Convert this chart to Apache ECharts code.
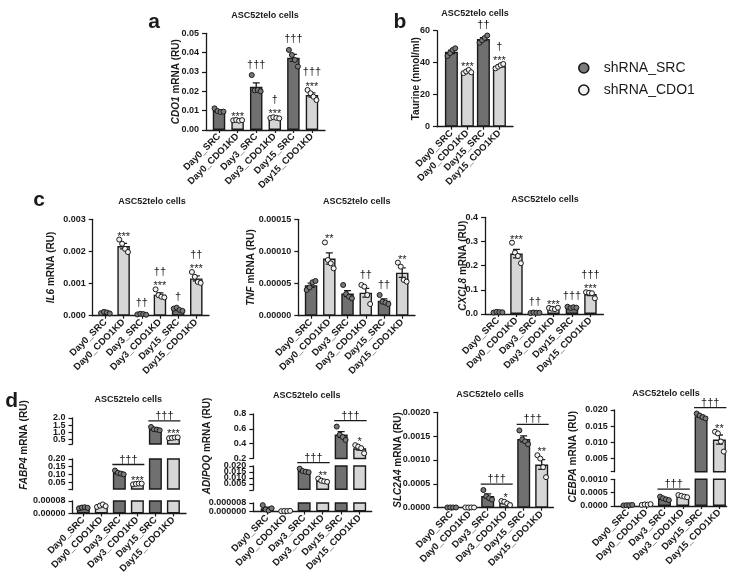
<!DOCTYPE html>
<html><head><meta charset="utf-8">
<script src="https://cdn.jsdelivr.net/npm/echarts@6/dist/echarts.min.js"></script>
<style>html,body{margin:0;padding:0;background:#fff}#c{width:733px;height:576px}</style>
</head><body><div id="c"></div>
<script>
// ---------------- data ----------------
const cats6 = ['Day0_SRC','Day0_CDO1KD','Day3_SRC','Day3_CDO1KD','Day15_SRC','Day15_CDO1KD'];
const cats4 = ['Day0_SRC','Day0_CDO1KD','Day15_SRC','Day15_CDO1KD'];
const shrna6 = [0,1,0,1,0,1];   // 0 = shRNA_SRC, 1 = shRNA_CDO1
const shrna4 = [0,1,0,1];
const seriesNames = ['shRNA_SRC','shRNA_CDO1'];
const panelTitle = 'ASC52telo cells';

// a: CDO1 mRNA
const cdo1Pts = [[0.0112,0.0098,0.0093,0.0095],[0.0050,0.0052,0.0048,0.0051],[0.0284,0.0205,0.0207,0.0200],
                 [0.0062,0.0066,0.0063,0.0060],[0.0414,0.0388,0.0362,0.0328],[0.0207,0.0190,0.0172,0.0155]];
const cdo1Stars = ['','***','','***','','***'];
const cdo1Daggers = ['','','†††','†','†††','†††'];
const cdo1Ticks = [0,0.01,0.02,0.03,0.04,0.05];

// b: Taurine
const taurinePts = [[44.2,46.0,48.0,49.0],[33.5,34.5,35.5,34.0],[52.5,54.0,55.5,57.0],[36.5,37.5,38.5,39.2]];
const taurineStars = ['','***','','***'];
const taurineDaggers = ['','','††','†'];
const taurineTicks = [0,20,40,60];

// c: IL6, TNF, CXCL8
const il6Pts = [[0.00008,0.00012,0.00010,0.00007],[0.00237,0.00224,0.00208,0.00198],[0.00004,0.00006,0.00005,0.00003],
                [0.00082,0.00064,0.00059,0.00057],[0.00022,0.00025,0.00018,0.00015],[0.00136,0.00121,0.00105,0.00102]];
const il6Stars = ['','***','','***','','***'];
const il6Daggers = ['','','††','††','†','††'];
const il6Ticks = [0,0.001,0.002,0.003];

const tnfPts = [[0.000040,0.000044,0.000052,0.000054],[0.000114,0.0000867,0.0000815,0.0000737],[0.0000478,0.0000337,0.0000296,0.000027],
                [0.0000478,0.0000452,0.0000322,0.0000182],[0.0000322,0.0000218,0.0000203,0.0000182],[0.0000826,0.0000763,0.0000556,0.000053]];
const tnfStars = ['','**','','','','**'];
const tnfDaggers = ['','','','††','††',''];
const tnfTicks = [0,0.00005,0.0001,0.00015];

const cxcl8Pts = [[0.006,0.009,0.008,0.007],[0.295,0.254,0.240,0.210],[0.004,0.006,0.005,0.005],
                  [0.025,0.022,0.020,0.026],[0.030,0.025,0.028,0.026],[0.090,0.088,0.086,0.065]];
const cxcl8Stars = ['','***','','***','','***'];
const cxcl8Daggers = ['','','††','','†††','†††'];
const cxcl8Ticks = [0,0.1,0.2,0.3,0.4];

// d: FABP4, ADIPOQ, SLC2A4, CEBPA
const fabp4Pts = [[0.000033,0.000038,0.000040,0.000036],[0.000042,0.000050,0.000058,0.000047],[0.125,0.110,0.105,0.100],
                  [0.035,0.038,0.040,0.040],[1.38,1.22,1.20,1.15],[0.60,0.62,0.65,0.66]];
const fabp4Stars = ['','','','***','','***'];
const fabp4Brackets = [[2,3,'†††'],[4,5,'†††']];
const fabp4TicksLow = [0,0.00008], fabp4TicksMid = [0.05,0.10,0.15,0.20], fabp4TicksTop = [0.5,1.0,1.5,2.0];

const adipoqPts = [[0.000006,0.000002,0.000001,0.000003],[0.0000003,0.0000005,0.0000004,0.0000006],[0.0178,0.0158,0.0152,0.0148],
                   [0.0095,0.0078,0.0072,0.0068],[0.63,0.52,0.49,0.45],[0.38,0.36,0.34,0.27]];
const adipoqStars = ['','','','**','','*'];
const adipoqBrackets = [[2,3,'†††'],[4,5,'†††']];
const adipoqTicksLow = [0,0.000008], adipoqTicksMid = [0.005,0.010,0.015,0.020], adipoqTicksTop = [0.2,0.4,0.6,0.8];

const slc2a4Pts = [[0.000004,0.000006,0.000005,0.000005],[0.000005,0.000004,0.000006,0.000005],[0.00037,0.00024,0.00020,0.00017],
                   [0.00014,0.000125,0.00009,0.000055],[0.00162,0.00143,0.00139,0.00133],[0.00110,0.00103,0.00085,0.00064]];
const slc2a4Stars = ['','','','*','','**'];
const slc2a4Brackets = [[2,3,'†††'],[4,5,'†††']];
const slc2a4Ticks = [0,0.0005,0.0010,0.0015,0.0020];

const cebpaPts = [[0.00002,0.00003,0.00003,0.00004],[0.00004,0.00006,0.00005,0.00007],[0.00035,0.00029,0.00025,0.00022],
                  [0.00041,0.00038,0.00035,0.00033],[0.0189,0.0183,0.0178,0.0174],[0.0133,0.0128,0.0103,0.0072]];
const cebpaStars = ['','','','','','**'];
const cebpaBrackets = [[2,3,'†††'],[4,5,'†††']];
const cebpaTicksLow = [0,0.0005,0.0010], cebpaTicksTop = [0.005,0.010,0.015,0.020];

// ---------------- style ----------------
const FONT = "'Liberation Sans', Arial, Helvetica, sans-serif";
const INK = '#1a1a1a';
const BAR_FILL = ['#707070', '#d6d6d6'];
const DOT_FILL = ['#7a7a7a', '#f2f2f2'];
const JIT = [-0.24, -0.08, 0.08, 0.24];
const LABEL_MARGIN = 7;

function stats(arr) {
  const n = arr.length;
  const m = arr.reduce((a, b) => a + b, 0) / n;
  const sd = Math.sqrt(arr.reduce((a, b) => a + (b - m) * (b - m), 0) / (n - 1));
  const se = sd / Math.sqrt(n);
  return { m, se, top: Math.max(Math.max(...arr), m + se) };
}

const option = {
  animation: false, backgroundColor: '#fff',
  title: [], grid: [], xAxis: [], yAxis: [], series: [],
  legend: {
    data: seriesNames, orient: 'vertical', left: 578, top: 61, padding: 0,
    itemWidth: 30, itemHeight: 10, itemGap: 8, icon: 'circle', selectedMode: false,
    textStyle: { fontSize: 14, fontFamily: FONT, color: INK },
    itemStyle: { borderWidth: 1.6, borderColor: INK }
  }
};

const nameStyle = { fontSize: 10, fontWeight: 'bold', fontFamily: FONT, color: INK,
  rich: { i: { fontSize: 10, fontWeight: 'bold', fontStyle: 'italic', fontFamily: FONT, color: INK } } };

function txt(text, x, y, size) {
  return { type: 'text', x, y, style: { text, align: 'center', verticalAlign: 'bottom', fontSize: size || 11, fontFamily: FONT, fill: INK } };
}

function errRender(params, api) {
  const x = api.value(0);
  const p0 = api.coord([x, api.value(1)]), p1 = api.coord([x, api.value(2)]);
  const cw = 3.5, ls = { stroke: INK, lineWidth: 1.3 };
  return { type: 'group', children: [
    { type: 'line', shape: { x1: p0[0], y1: p0[1], x2: p1[0], y2: p1[1] }, style: ls },
    { type: 'line', shape: { x1: p1[0] - cw, y1: p1[1], x2: p1[0] + cw, y2: p1[1] }, style: ls },
    { type: 'line', shape: { x1: p0[0] - cw, y1: p0[1], x2: p0[0] + cw, y2: p0[1] }, style: ls }
  ] };
}

function addPanel(p) {
  const st = p.pts.map(stats);
  const idxs = p.cats.map((_, i) => i);
  const segFor = v => { for (let k = 0; k < p.segs.length; k++) if (v <= p.segs[k].max * 1.0000001) return k; return p.segs.length - 1; };
  const multi = p.segs.length > 1;
  p.segs.forEach((s, k) => {
    const gi = option.grid.length;
    option.grid.push({ left: p.left, top: s.top, width: p.right - p.left, height: s.bottom - s.top });
    option.xAxis.push({
      type: 'value', gridIndex: gi, min: p.xmin, max: p.xmax, show: k === 0,
      axisLine: { show: true, onZero: false, lineStyle: { color: INK, width: 1.3 } },
      axisTick: { show: true, customValues: idxs, length: 3, lineStyle: { color: INK, width: 1.2 } },
      axisLabel: { customValues: idxs, formatter: v => p.cats[Math.round(v)], rotate: 45, margin: 5,
        fontSize: 9.5, fontWeight: 'bold', fontFamily: FONT, color: INK, hideOverlap: false },
      splitLine: { show: false }
    });
    const y = {
      type: 'value', gridIndex: gi, min: s.min, max: s.max,
      axisLine: { show: true, onZero: false, lineStyle: { color: INK, width: 1.3 } },
      axisTick: { show: true, customValues: s.ticks || s.labels, length: 4, lineStyle: { color: INK, width: 1.2 } },
      axisLabel: { show: !multi, customValues: s.labels, formatter: v => v.toFixed(s.dec), margin: LABEL_MARGIN,
        showMinLabel: true, showMaxLabel: true,
        fontSize: 9, fontWeight: 'bold', fontFamily: FONT, color: INK },
      splitLine: { show: false }
    };
    if (!multi) { y.name = p.name; y.nameLocation = 'middle'; y.nameGap = p.nameGap; y.nameTextStyle = nameStyle; y.nameMoveOverlap = false; }
    option.yAxis.push(y);

    if (multi) {
      // tick labels of a broken-axis segment, placed through this segment's y scale
      option.series.push({
        type: 'custom', xAxisIndex: gi, yAxisIndex: gi, clip: false, z: 5, silent: true,
        encode: { y: 0 }, data: s.labels.map(v => [v]),
        renderItem: (params, api) => {
          const v = api.value(0);
          const pt = api.coord([p.xmin, v]);
          return { type: 'text', x: pt[0] - LABEL_MARGIN, y: pt[1],
            style: { text: v.toFixed(s.dec), align: 'right', verticalAlign: 'middle', fontSize: 9, fontWeight: 'bold', fontFamily: FONT, fill: INK } };
        }
      });
    }

    const inSeg = v => segFor(v) === k;
    option.series.push({
      type: 'bar', xAxisIndex: gi, yAxisIndex: gi, barWidth: p.barW, clip: true, z: 2, silent: true,
      itemStyle: { borderColor: INK, borderWidth: 1.4 },
      data: st.map((d, i) => ({ value: [i, d.m], itemStyle: { color: BAR_FILL[p.types[i]] } }))
              .filter((it, i) => k === 0 || st[i].m > s.min)
    });
    option.series.push({
      type: 'custom', xAxisIndex: gi, yAxisIndex: gi, clip: true, z: 3, silent: true,
      encode: { x: 0, y: [1, 2] }, renderItem: errRender,
      data: st.map((d, i) => [i, d.m - d.se, d.m + d.se]).filter((it, i) => inSeg(st[i].m))
    });
    seriesNames.forEach((nm, t) => {
      const data = [];
      p.pts.forEach((arr, i) => { if (p.types[i] !== t) return; arr.forEach((v, j) => { if (inSeg(v)) data.push([i + JIT[j], v]); }); });
      option.series.push({
        type: 'scatter', name: nm, xAxisIndex: gi, yAxisIndex: gi, clip: true, z: 4, silent: true,
        symbol: 'circle', symbolSize: 5,
        itemStyle: { color: DOT_FILL[t], borderColor: INK, borderWidth: 1, opacity: 1 }, data
      });
    });
    option.series.push({
      type: 'custom', xAxisIndex: gi, yAxisIndex: gi, clip: false, z: 5, silent: true,
      encode: { x: 0, y: 1 },
      data: st.map((d, i) => [i, d.top]),
      renderItem: (params, api) => {
        const i = params.dataIndex, top = api.value(1);
        if (segFor(top) !== k) return null;
        const pt = api.coord([i, top]);
        const ch = [];
        const sStr = p.stars[i], dStr = p.daggers ? p.daggers[i] : '';
        if (sStr) ch.push(txt(sStr, pt[0], pt[1] + 2.5));
        if (dStr) ch.push(txt(dStr, pt[0], pt[1] - (sStr ? 12 : 5)));
        return { type: 'group', children: ch };
      }
    });
    if (p.brackets) {
      option.series.push({
        type: 'custom', xAxisIndex: gi, yAxisIndex: gi, clip: false, z: 5, silent: true,
        encode: { x: [0, 1], y: 2 },
        data: p.brackets.map(b => [b[0], b[1], Math.max(st[b[0]].top, st[b[1]].top)]),
        renderItem: (params, api) => {
          const top = api.value(2);
          if (segFor(top) !== k) return null;
          const a = api.coord([api.value(0), top]), b = api.coord([api.value(1), top]);
          const yy = a[1] - 6;
          return { type: 'group', children: [
            { type: 'line', shape: { x1: a[0] - 7, y1: yy, x2: b[0] + 7, y2: yy }, style: { stroke: INK, lineWidth: 1.3 } },
            txt(p.brackets[params.dataIndex][2], (a[0] + b[0]) / 2, yy + 0.5)
          ] };
        }
      });
    }
  });
  if (multi) {
    const gi = option.grid.length;
    option.grid.push({ left: p.left - 60, top: p.nameTop, width: 10, height: p.nameBottom - p.nameTop });
    option.xAxis.push({ type: 'value', gridIndex: gi, show: false });
    option.yAxis.push({ type: 'value', gridIndex: gi, min: 0, max: 1,
      axisLine: { show: false }, axisTick: { show: false }, axisLabel: { show: false }, splitLine: { show: false },
      name: p.name, nameLocation: 'middle', nameGap: p.nameGap - 60, nameTextStyle: nameStyle, nameMoveOverlap: false });
  }
  option.title.push({ text: panelTitle, left: p.title[0], top: p.title[1], textAlign: 'center', textVerticalAlign: 'middle', padding: 0,
    textStyle: { fontSize: 9, fontWeight: 'bold', fontFamily: FONT, color: INK } });
}

addPanel({ cats: cats6, types: shrna6, pts: cdo1Pts, stars: cdo1Stars, daggers: cdo1Daggers,
  left: 206, right: 325, xmin: -0.7, xmax: 5.7, barW: 12.5,
  segs: [{ top: 33.3, bottom: 130, min: 0, max: 0.05, labels: cdo1Ticks, dec: 2 }],
  name: '{i|CDO1} mRNA (RU)', nameGap: 25, title: [265, 15.7] });

addPanel({ cats: cats4, types: shrna4, pts: taurinePts, stars: taurineStars, daggers: taurineDaggers,
  left: 437, right: 513, xmin: -0.9, xmax: 3.85, barW: 13,
  segs: [{ top: 30.7, bottom: 126.7, min: 0, max: 60, labels: taurineTicks, dec: 0 }],
  name: 'Taurine (nmol/ml)', nameGap: 16, title: [475, 13.3] });

addPanel({ cats: cats6, types: shrna6, pts: il6Pts, stars: il6Stars, daggers: il6Daggers,
  left: 92.7, right: 209, xmin: -0.7, xmax: 5.7, barW: 12.5,
  segs: [{ top: 219.3, bottom: 315.7, min: 0, max: 0.003, labels: il6Ticks, dec: 3 }],
  name: '{i|IL6} mRNA (RU)', nameGap: 36, title: [152, 201.7] });

addPanel({ cats: cats6, types: shrna6, pts: tnfPts, stars: tnfStars, daggers: tnfDaggers,
  left: 298.3, right: 415, xmin: -0.7, xmax: 5.7, barW: 12.5,
  segs: [{ top: 219.3, bottom: 315.7, min: 0, max: 0.00015, labels: tnfTicks, dec: 5 }],
  name: '{i|TNF} mRNA (RU)', nameGap: 42, title: [356.7, 201.7] });

addPanel({ cats: cats6, types: shrna6, pts: cxcl8Pts, stars: cxcl8Stars, daggers: cxcl8Daggers,
  left: 485, right: 603.4, xmin: -0.7, xmax: 5.7, barW: 12.5,
  segs: [{ top: 217.3, bottom: 314, min: 0, max: 0.4, labels: cxcl8Ticks, dec: 1 }],
  name: '{i|CXCL8} mRNA (RU)', nameGap: 17, title: [545, 199.3] });

addPanel({ cats: cats6, types: shrna6, pts: fabp4Pts, stars: fabp4Stars, brackets: fabp4Brackets,
  left: 72.5, right: 186, xmin: -0.6, xmax: 5.7, barW: 13,
  segs: [
    { top: 501, bottom: 514, min: 0, max: 0.00008, labels: fabp4TicksLow, dec: 5 },
    { top: 459, bottom: 489.7, min: 0.00008, max: 0.2, labels: fabp4TicksMid, ticks: [0.00008].concat(fabp4TicksMid), dec: 2 },
    { top: 418, bottom: 444, min: 0.2, max: 2.0, labels: fabp4TicksTop, ticks: [0.2].concat(fabp4TicksTop), dec: 1 }],
  name: '{i|FABP4} mRNA (RU)', nameGap: 43, nameTop: 417, nameBottom: 473, title: [128.3, 399.3] });

addPanel({ cats: cats6, types: shrna6, pts: adipoqPts, stars: adipoqStars, brackets: adipoqBrackets,
  left: 253.3, right: 371.7, xmin: -0.75, xmax: 5.65, barW: 13,
  segs: [
    { top: 503, bottom: 511.5, min: 0, max: 0.000008, labels: adipoqTicksLow, dec: 6 },
    { top: 466, bottom: 490, min: 0.000008, max: 0.02, labels: adipoqTicksMid, ticks: [0.000008].concat(adipoqTicksMid), dec: 3 },
    { top: 414, bottom: 458.5, min: 0.2, max: 0.8, labels: adipoqTicksTop, dec: 1 }],
  name: '{i|ADIPOQ} mRNA (RU)', nameGap: 41, nameTop: 414, nameBottom: 478, title: [306.7, 396] });

addPanel({ cats: cats6, types: shrna6, pts: slc2a4Pts, stars: slc2a4Stars, brackets: slc2a4Brackets,
  left: 437.3, right: 553.4, xmin: -0.8, xmax: 5.65, barW: 13,
  segs: [{ top: 412.3, bottom: 507.7, min: 0, max: 0.002, labels: slc2a4Ticks, dec: 4 }],
  name: '{i|SLC2A4} mRNA (RU)', nameGap: 34, title: [490, 395] });

addPanel({ cats: cats6, types: shrna6, pts: cebpaPts, stars: cebpaStars, brackets: cebpaBrackets,
  left: 614.7, right: 726.7, xmin: -0.72, xmax: 5.4, barW: 13,
  segs: [
    { top: 479.3, bottom: 506, min: 0, max: 0.001, labels: cebpaTicksLow, dec: 4 },
    { top: 410, bottom: 471.7, min: 0.001, max: 0.02, labels: cebpaTicksTop, ticks: [0.001].concat(cebpaTicksTop), dec: 3 }],
  name: '{i|CEBPA} mRNA (RU)', nameGap: 36.5, nameTop: 410, nameBottom: 503.4, title: [666, 393.3] });

// panel letters
[['a', 154, 21.8], ['b', 400, 22.5], ['c', 39, 200], ['d', 11.7, 401.7]].forEach(l => {
  option.title.push({ text: l[0], left: l[1], top: l[2], textAlign: 'center', textVerticalAlign: 'middle', padding: 0,
    textStyle: { fontSize: 21, fontWeight: 'bold', fontFamily: FONT, color: INK } });
});

const chart = echarts.init(document.getElementById('c'), null, { renderer: 'canvas' });
chart.setOption(option);
</script></body></html>
